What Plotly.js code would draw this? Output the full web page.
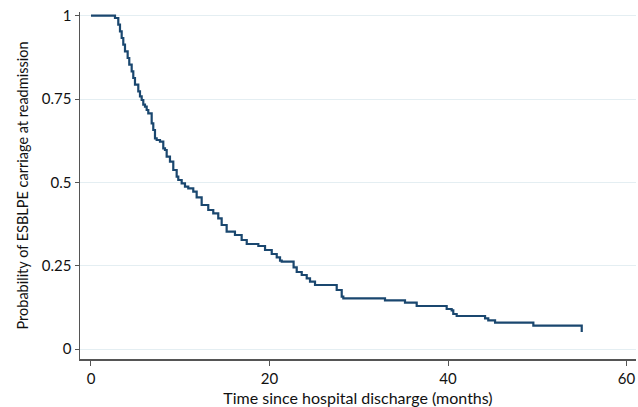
<!DOCTYPE html>
<html>
<head>
<meta charset="utf-8">
<script src="https://cdn.plot.ly/plotly-3.0.1.min.js"></script>
<style>
html,body{margin:0;padding:0;background:#fff;}
#chart{width:638px;height:407px;}
</style>
</head>
<body>
<div id="chart"></div>
<script>
// Kaplan-Meier estimate
const months = [0, 2.69, 3.06, 3.25, 3.44, 3.62, 3.81, 4.11, 4.29, 4.56, 4.74, 4.93, 5.30, 5.49, 5.68, 5.86, 6.05, 6.24, 6.42, 6.80, 6.98, 7.17, 7.36, 7.73, 8.10, 8.29, 8.48, 8.85, 9.22, 9.60, 9.78, 10.16, 10.53, 10.90, 11.46, 11.84, 12.40, 13.14, 13.70, 14.26, 14.64, 15.20, 16.13, 16.88, 17.45, 18.75, 19.50, 20.25, 20.81, 21.18, 21.37, 22.70, 23.05, 23.61, 24.17, 24.54, 25.10, 27.53, 28.09, 28.27, 32.94, 35.18, 36.49, 39.85, 40.41, 40.59, 40.97, 44.15, 44.51, 45.27, 49.56, 54.98];
const probability = [1.0, 0.993, 0.973, 0.953, 0.933, 0.913, 0.893, 0.873, 0.853, 0.833, 0.813, 0.793, 0.773, 0.758, 0.747, 0.733, 0.727, 0.717, 0.707, 0.677, 0.657, 0.632, 0.627, 0.622, 0.602, 0.597, 0.577, 0.562, 0.537, 0.517, 0.507, 0.497, 0.487, 0.482, 0.472, 0.455, 0.432, 0.417, 0.407, 0.392, 0.372, 0.352, 0.342, 0.327, 0.315, 0.309, 0.297, 0.285, 0.275, 0.265, 0.262, 0.245, 0.231, 0.222, 0.212, 0.202, 0.192, 0.177, 0.157, 0.152, 0.146, 0.139, 0.129, 0.120, 0.116, 0.105, 0.099, 0.092, 0.086, 0.079, 0.070, 0.051];

const yTicks = [0, 0.25, 0.5, 0.75, 1];
const yTickLabels = ["0", "0.25", "0.5", "0.75", "1"];
const xTicks = [0, 20, 40, 60];
const xTickLabels = ["0", "20", "40", "60"];

const trace = {
  x: months,
  y: probability,
  type: 'scatter',
  mode: 'lines',
  line: {shape: 'hv', color: '#1a476f', width: 2.2},
  hoverinfo: 'skip'
};

const fam = 'Lato, "Open Sans", sans-serif';

const layout = {
  width: 638,
  height: 407,
  margin: {l: 80, r: 2, t: 12, b: 48},
  paper_bgcolor: '#fff',
  plot_bgcolor: '#fff',
  showlegend: false,
  font: {family: fam, size: 14, color: '#111'},
  xaxis: {
    range: [-1.23, 61.06],
    tickvals: xTicks,
    ticktext: xTickLabels,
    ticks: 'outside',
    ticklen: 5,
    tickwidth: 1,
    tickcolor: '#555',
    showline: true,
    linecolor: '#555',
    linewidth: 1.5,
    showgrid: false,
    zeroline: false,
    tickfont: {family: fam, size: 15, color: '#111'},
    title: {text: 'Time since hospital discharge (months)', font: {family: fam, size: 16, color: '#111'}, standoff: 12},
    automargin: false
  },
  yaxis: {
    range: [-0.030, 1.011],
    tickvals: yTicks,
    ticktext: yTickLabels,
    ticks: 'outside',
    ticklen: 4,
    tickwidth: 1,
    tickcolor: '#555',
    showline: true,
    linecolor: '#555',
    linewidth: 1.5,
    showgrid: true,
    gridcolor: '#e4eef2',
    gridwidth: 1,
    zeroline: false,
    tickfont: {family: fam, size: 15, color: '#111'},
    title: {text: 'Probability of ESBLPE carriage at readmission', font: {family: fam, size: 14.5, color: '#111'}, standoff: 10},
    automargin: false
  }
};

Plotly.newPlot('chart', [trace], layout, {displayModeBar: false, staticPlot: true});
</script>
</body>
</html>
